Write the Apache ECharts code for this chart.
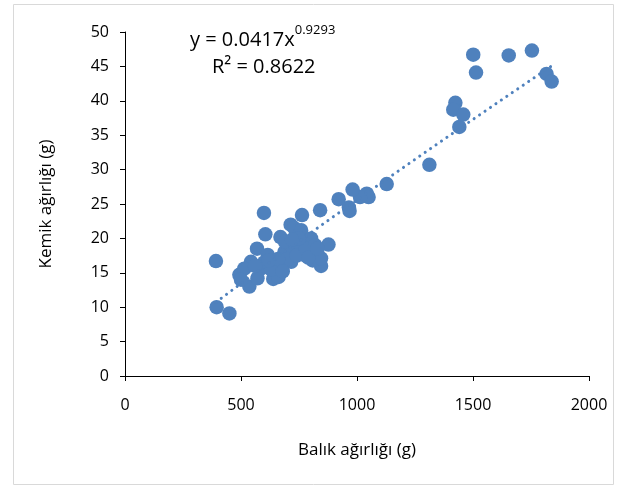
<!DOCTYPE html>
<html>
<head>
<meta charset="utf-8">
<script src="https://cdn.jsdelivr.net/npm/echarts@6/dist/echarts.min.js"></script>
<style>
  html, body { margin: 0; padding: 0; background: #fff; }
  #chart { width: 627px; height: 486px; }
</style>
</head>
<body>
<div id="chart"></div>
<script>
// balık ağırlığı (g) vs kemik ağırlığı (g)
const fishWeight = [
  1501, 1654, 1754, 1513, 1817, 1839, 1424, 1415, 1458, 1441,
  1312, 1128, 1042, 1050, 1013, 981, 921, 965, 968, 841,
  763, 599, 605, 670, 714, 730, 759, 802, 877, 845,
  392, 395, 450, 493, 536, 569, 543, 644, 665, 716,
  773, 615, 586, 716, 816, 759, 687, 514, 639, 571,
  809, 845, 662, 600, 630, 700, 740, 780, 820, 750,
  690, 660, 560, 500, 620, 790, 830, 720, 680
];
const boneWeight = [
  46.7, 46.6, 47.3, 44.1, 43.9, 42.8, 39.7, 38.7, 38.0, 36.2,
  30.7, 27.9, 26.5, 26.0, 26.0, 27.1, 25.7, 24.5, 24.0, 24.1,
  23.4, 23.7, 20.6, 20.2, 22.0, 21.5, 21.2, 20.0, 19.1, 16.0,
  16.7, 10.0, 9.1, 14.7, 13.0, 18.5, 16.6, 14.4, 16.1, 16.6,
  17.6, 17.6, 15.6, 18.5, 18.0, 19.0, 18.0, 15.6, 14.1, 14.2,
  16.8, 17.1, 14.4, 16.5, 15.5, 17.0, 17.5, 18.5, 19.0, 20.0,
  19.5, 17.0, 16.0, 14.0, 16.8, 17.2, 18.5, 19.8, 15.2
];
const xTicks = [0, 500, 1000, 1500, 2000];
const yTicks = [0, 5, 10, 15, 20, 25, 30, 35, 40, 45, 50];

// power trendline shown on the chart
const trendA = 0.0417, trendB = 0.9293;
const trendFrom = 392, trendTo = 1839;

const points = fishWeight.map((x, i) => [x, boneWeight[i]]);
const trend = [];
for (let x = trendFrom; x <= trendTo; x += 10) trend.push([x, trendA * Math.pow(x, trendB)]);
trend.push([trendTo, trendA * Math.pow(trendTo, trendB)]);

const font = '"Open Sans", "Noto Sans", sans-serif';
const blue = '#4f81bd';

const chart = echarts.init(document.getElementById('chart'));
chart.setOption({
  animation: false,
  textStyle: { fontFamily: font },
  grid: { left: 125, right: 38, top: 32, bottom: 110 },
  xAxis: {
    type: 'value',
    min: xTicks[0], max: xTicks[xTicks.length - 1], interval: 500,
    name: 'Balık ağırlığı (g)',
    nameLocation: 'middle', nameGap: 66,
    nameTextStyle: { fontSize: 17, color: '#000', fontFamily: font },
    axisLine: { lineStyle: { color: '#000', width: 1 } },
    axisTick: { inside: false, length: 5, lineStyle: { color: '#000' } },
    axisLabel: { fontSize: 16, color: '#000', margin: 21, fontFamily: font, formatter: v => String(v) },
    splitLine: { show: false }
  },
  yAxis: {
    type: 'value',
    min: yTicks[0], max: yTicks[yTicks.length - 1], interval: 5,
    name: 'Kemik ağırlığı (g)',
    nameLocation: 'middle', nameGap: 70,
    nameTextStyle: { fontSize: 17, color: '#000', fontFamily: font },
    axisLine: { show: true, lineStyle: { color: '#000', width: 1 } },
    axisTick: { show: true, inside: false, length: 5, lineStyle: { color: '#000' } },
    axisLabel: { fontSize: 16, color: '#000', margin: 16, fontFamily: font },
    splitLine: { show: false }
  },
  graphic: [
    {
      type: 'rect', silent: true, z: -1,
      shape: { x: 13.5, y: 4.5, width: 600, height: 480 },
      style: { fill: 'none', stroke: '#d9d9d9', lineWidth: 1 }
    },
    {
      type: 'text', left: 190, top: 24,
      style: {
        text: '{n|y = 0.0417x}{s|0.9293}',
        rich: {
          n: { fontSize: 20, lineHeight: 26, fontFamily: font, fill: '#000', verticalAlign: 'bottom' },
          s: { fontSize: 13, lineHeight: 26, fontFamily: font, fill: '#000', verticalAlign: 'top' }
        }
      }
    },
    {
      type: 'text', left: 212, top: 57,
      style: { text: 'R² = 0.8622', font: '20px ' + font, fill: '#000' }
    }
  ],
  series: [
    {
      type: 'scatter',
      data: points,
      symbol: 'circle',
      symbolSize: 14.5,
      itemStyle: { color: blue, opacity: 1 },
      z: 2
    },
    {
      type: 'line',
      data: trend,
      showSymbol: false,
      smooth: false,
      lineStyle: { color: blue, width: 3, type: [0.1, 6.5], cap: 'round' },
      z: 3
    }
  ]
});
</script>
</body>
</html>
